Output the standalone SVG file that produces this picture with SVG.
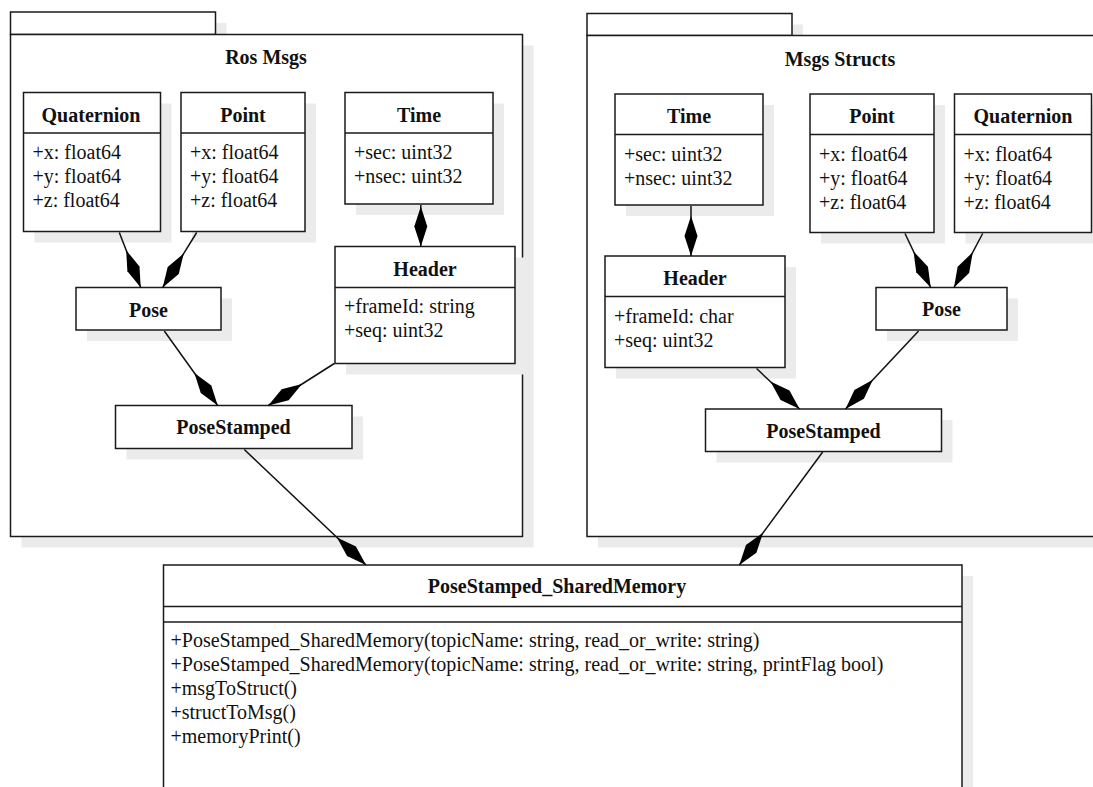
<svg xmlns="http://www.w3.org/2000/svg" width="1093" height="787" viewBox="0 0 1093 787">
  <style>
    .shadow { fill: #ebebeb; stroke: none; }
    .box { fill: #ffffff; stroke: #1a1a1a; stroke-width: 1.5; }
    .div { stroke: #1a1a1a; stroke-width: 1.5; fill: none; }
    .title { font-family: "Liberation Serif", "Times New Roman", serif; font-weight: bold; font-size: 20px; text-anchor: middle; fill: #111; }
    .attr { font-family: "Liberation Serif", "Times New Roman", serif; font-size: 20px; fill: #111; }
    .edge { stroke: #111; stroke-width: 1.5; fill: none; marker-end: url(#diamond); }
  </style>
  <defs>
    <!-- filled composition diamond, tip sits on the owning class -->
    <marker id="diamond" markerUnits="userSpaceOnUse" viewBox="0 -7 41 14" refX="40" refY="0" markerWidth="41" markerHeight="14" orient="auto">
      <path d="M0,0 L20,-6.5 L40,0 L20,6.5 Z" fill="#000"/>
    </marker>
  </defs>
  <rect width="1093" height="787" fill="#ffffff"/>

  <!-- package: Ros Msgs -->
  <g id="pkg-ros-msgs">
    <rect class="shadow" x="21.5" y="23" width="205" height="22.5"/>
    <rect class="shadow" x="21.5" y="45.5" width="512" height="502"/>
    <rect class="box" x="10.5" y="12" width="205" height="22.5"/>
    <rect class="box" x="10.5" y="34.5" width="512" height="502"/>
    <text class="title" x="266" y="64">Ros Msgs</text>
  </g>

  <!-- package: Msgs Structs -->
  <g id="pkg-msgs-structs">
    <rect class="shadow" x="598" y="24.5" width="205" height="22"/>
    <rect class="shadow" x="598" y="46.5" width="520" height="501"/>
    <rect class="box" x="587" y="13.5" width="205" height="22"/>
    <rect class="box" x="587" y="35.5" width="520" height="501"/>
    <text class="title" x="840" y="66">Msgs Structs</text>
  </g>

  <!-- Ros Msgs classes -->
  <g id="ros-quaternion">
    <rect class="shadow" x="34.5" y="103.5" width="137" height="139"/>
    <rect class="box" x="23.5" y="92.5" width="137" height="139"/>
    <line class="div" x1="23.5" y1="133" x2="160.5" y2="133"/>
    <text class="title" x="91" y="121.5">Quaternion</text>
    <text class="attr" x="32.5" y="159">+x: float64</text>
    <text class="attr" x="32.5" y="183">+y: float64</text>
    <text class="attr" x="32.5" y="207">+z: float64</text>
  </g>
  <g id="ros-point">
    <rect class="shadow" x="192" y="103.5" width="124" height="139"/>
    <rect class="box" x="181" y="92.5" width="124" height="139"/>
    <line class="div" x1="181" y1="133" x2="305" y2="133"/>
    <text class="title" x="243" y="121.5">Point</text>
    <text class="attr" x="190" y="159">+x: float64</text>
    <text class="attr" x="190" y="183">+y: float64</text>
    <text class="attr" x="190" y="207">+z: float64</text>
  </g>
  <g id="ros-time">
    <rect class="shadow" x="356" y="103.5" width="148" height="111.5"/>
    <rect class="box" x="345" y="92.5" width="148" height="111.5"/>
    <line class="div" x1="345" y1="133" x2="493" y2="133"/>
    <text class="title" x="419" y="121.5">Time</text>
    <text class="attr" x="354" y="159">+sec: uint32</text>
    <text class="attr" x="354" y="183">+nsec: uint32</text>
  </g>
  <g id="ros-header">
    <rect class="shadow" x="346" y="257.5" width="180" height="117"/>
    <rect class="box" x="335" y="246.5" width="180" height="117"/>
    <line class="div" x1="335" y1="287.5" x2="515" y2="287.5"/>
    <text class="title" x="425" y="275.5">Header</text>
    <text class="attr" x="344" y="312.5">+frameId: string</text>
    <text class="attr" x="344" y="337">+seq: uint32</text>
  </g>
  <g id="ros-pose">
    <rect class="shadow" x="87" y="298.5" width="145" height="42.5"/>
    <rect class="box" x="76" y="287.5" width="145" height="42.5"/>
    <text class="title" x="148.5" y="316.5">Pose</text>
  </g>
  <g id="ros-posestamped">
    <rect class="shadow" x="126.5" y="416.5" width="236.5" height="43"/>
    <rect class="box" x="115.5" y="405.5" width="236.5" height="43"/>
    <text class="title" x="233.5" y="434">PoseStamped</text>
  </g>

  <!-- Msgs Structs classes -->
  <g id="st-time">
    <rect class="shadow" x="626" y="105" width="148" height="111"/>
    <rect class="box" x="615" y="94" width="148" height="111"/>
    <line class="div" x1="615" y1="134.5" x2="763" y2="134.5"/>
    <text class="title" x="689" y="123">Time</text>
    <text class="attr" x="624" y="160.5">+sec: uint32</text>
    <text class="attr" x="624" y="184.5">+nsec: uint32</text>
  </g>
  <g id="st-point">
    <rect class="shadow" x="821" y="105" width="124" height="138.5"/>
    <rect class="box" x="810" y="94" width="124" height="138.5"/>
    <line class="div" x1="810" y1="134.5" x2="934" y2="134.5"/>
    <text class="title" x="872" y="123">Point</text>
    <text class="attr" x="819" y="160.5">+x: float64</text>
    <text class="attr" x="819" y="184.5">+y: float64</text>
    <text class="attr" x="819" y="208.5">+z: float64</text>
  </g>
  <g id="st-quaternion">
    <rect class="shadow" x="965.5" y="105" width="137" height="138.5"/>
    <rect class="box" x="954.5" y="94" width="137" height="138.5"/>
    <line class="div" x1="954.5" y1="134.5" x2="1091.5" y2="134.5"/>
    <text class="title" x="1023" y="123">Quaternion</text>
    <text class="attr" x="963.5" y="160.5">+x: float64</text>
    <text class="attr" x="963.5" y="184.5">+y: float64</text>
    <text class="attr" x="963.5" y="208.5">+z: float64</text>
  </g>
  <g id="st-header">
    <rect class="shadow" x="616" y="267" width="180" height="111.5"/>
    <rect class="box" x="605" y="256" width="180" height="111.5"/>
    <line class="div" x1="605" y1="296.5" x2="785" y2="296.5"/>
    <text class="title" x="695" y="285">Header</text>
    <text class="attr" x="614" y="322.5">+frameId: char</text>
    <text class="attr" x="614" y="347">+seq: uint32</text>
  </g>
  <g id="st-pose">
    <rect class="shadow" x="887" y="298.5" width="131" height="42.5"/>
    <rect class="box" x="876" y="287.5" width="131" height="42.5"/>
    <text class="title" x="941.5" y="316">Pose</text>
  </g>
  <g id="st-posestamped">
    <rect class="shadow" x="716.5" y="420" width="236" height="42.5"/>
    <rect class="box" x="705.5" y="409" width="236" height="42.5"/>
    <text class="title" x="823.5" y="437.5">PoseStamped</text>
  </g>

  <!-- shared memory bridge class -->
  <g id="posestamped-sharedmemory">
    <rect class="shadow" x="174.5" y="576" width="798.5" height="230"/>
    <rect class="box" x="163.5" y="565" width="798.5" height="230"/>
    <line class="div" x1="163.5" y1="606.5" x2="962" y2="606.5"/>
    <line class="div" x1="163.5" y1="622" x2="962" y2="622"/>
    <text class="title" x="557" y="593">PoseStamped_SharedMemory</text>
    <text class="attr" x="170.5" y="646.5">+PoseStamped_SharedMemory(topicName: string, read_or_write: string)</text>
    <text class="attr" x="170.5" y="670.5">+PoseStamped_SharedMemory(topicName: string, read_or_write: string, printFlag bool)</text>
    <text class="attr" x="170.5" y="694.5">+msgToStruct()</text>
    <text class="attr" x="170.5" y="718.5">+structToMsg()</text>
    <text class="attr" x="170.5" y="742.5">+memoryPrint()</text>
  </g>

  <!-- composition connectors -->
  <g id="connectors">
    <line class="edge" x1="119.3" y1="232.5" x2="140.7" y2="287.5"/>
    <line class="edge" x1="196.7" y1="232.5" x2="162.7" y2="287.5"/>
    <line class="edge" x1="420.8" y1="205" x2="420.8" y2="246.5"/>
    <line class="edge" x1="164.3" y1="331" x2="217.7" y2="405.5"/>
    <line class="edge" x1="334.3" y1="363.5" x2="268.3" y2="405.5"/>
    <line class="edge" x1="244.3" y1="449.5" x2="366" y2="565"/>

    <line class="edge" x1="691" y1="206" x2="691" y2="256"/>
    <line class="edge" x1="905" y1="233.5" x2="930.7" y2="287.5"/>
    <line class="edge" x1="982.7" y1="233.5" x2="954" y2="287.5"/>
    <line class="edge" x1="756.5" y1="368.5" x2="799.6" y2="409"/>
    <line class="edge" x1="918.6" y1="331" x2="845.5" y2="409"/>
    <line class="edge" x1="822.7" y1="452" x2="739.3" y2="565"/>
  </g>
</svg>
